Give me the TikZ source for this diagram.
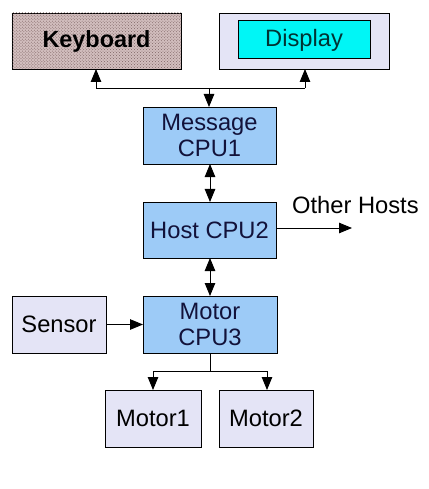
\documentclass[tikz,border=0pt]{standalone}
\usepackage{fontspec}
\setmainfont{Liberation Sans}
\usetikzlibrary{arrows.meta,patterns}
\definecolor{kbfill}{HTML}{D2BEBE}
\definecolor{kbdot}{HTML}{7E6464}
\definecolor{lav}{HTML}{E4E4F6}
\definecolor{cpublue}{HTML}{9DCBF7}
\definecolor{cyanfill}{HTML}{00F6F6}
\definecolor{txt}{HTML}{12123A}
\tikzset{
  box/.style={draw=black, line width=0.9bp, inner sep=0pt, outer sep=0pt, align=center,
    font=\fontsize{23.8}{27}\selectfont, text=txt},
  cpubox/.style={box, fill=cpublue},
  lavbox/.style={box, fill=lav},
  conn/.style={line width=0.9bp, draw=black},
  mytip/.tip={Triangle[length=13bp,width=10.5bp]},
  arr/.style={conn, -mytip},
  darr/.style={conn, mytip-mytip},
}
\begin{document}
\begin{tikzpicture}[x=1bp,y=-1bp]
\useasboundingbox (0,0) rectangle (428,489);
% keyboard
\node[box, minimum width=169bp, minimum height=56bp, fill=kbfill, postaction={pattern=crosshatch dots, pattern color=kbdot}, text=black, font=\fontsize{23.5}{27}\selectfont\bfseries] (kb) at (96.5,41) {Keyboard};
% display
\node[lavbox, minimum width=170bp, minimum height=56bp] (disp) at (304,41) {};
\node[box, fill=cyanfill, minimum width=132bp, minimum height=38bp, text=black!60!teal, text depth=2bp] (dispin) at (304,39) {Display};
% cpus
\node[cpubox, minimum width=133bp, minimum height=57bp] (cpu1) at (209.5,135.5) {Message\\CPU1};
\node[cpubox, minimum width=133bp, minimum height=56bp] (cpu2) at (209.5,230) {Host CPU2};
\node[cpubox, minimum width=134bp, minimum height=57bp] (cpu3) at (210,324.5) {Motor\\CPU3};
% others
\node[lavbox, minimum width=94bp, minimum height=57bp, text=black] (sensor) at (59,324.5) {Sensor};
\node[lavbox, minimum width=96bp, minimum height=57bp, text=black] (m1) at (153,418.5) {Motor1};
\node[lavbox, minimum width=94bp, minimum height=57bp, text=black] (m2) at (266,418.5) {Motor2};
\node[font=\fontsize{23.8}{27}\selectfont, text=black, anchor=west, inner sep=0pt] (oht) at (292,205) {Other Hosts};
% bus top
\coordinate (busL) at (96,88);
\coordinate (busR) at (305,88);
\coordinate (busM) at (209,88);
\draw[conn] (busL) -- (busR);
\draw[arr] (busL) -- (busL |- kb.south);
\draw[arr] (busR) -- (busR |- disp.south);
\draw[arr] (busM) -- (busM |- cpu1.north);
% cpu links
\draw[darr] (210,0 |- cpu1.south) -- (210,0 |- cpu2.north);
\draw[darr] (210,0 |- cpu2.south) -- (210,0 |- cpu3.north);
\coordinate (oh) at (352,228);
\draw[arr] (cpu2.east |- oh) -- (oh);
\draw[arr] (sensor.east) -- (cpu3.west);
% motor bus
\coordinate (mb) at (210,371);
\coordinate (mbL) at (153,371);
\coordinate (mbR) at (267,371);
\draw[conn] (cpu3.south -| mb) -- (mb);
\draw[conn] (mbL) -- (mbR);
\draw[arr] (mbL) -- (mbL |- m1.north);
\draw[arr] (mbR) -- (mbR |- m2.north);
\end{tikzpicture}
\end{document}
